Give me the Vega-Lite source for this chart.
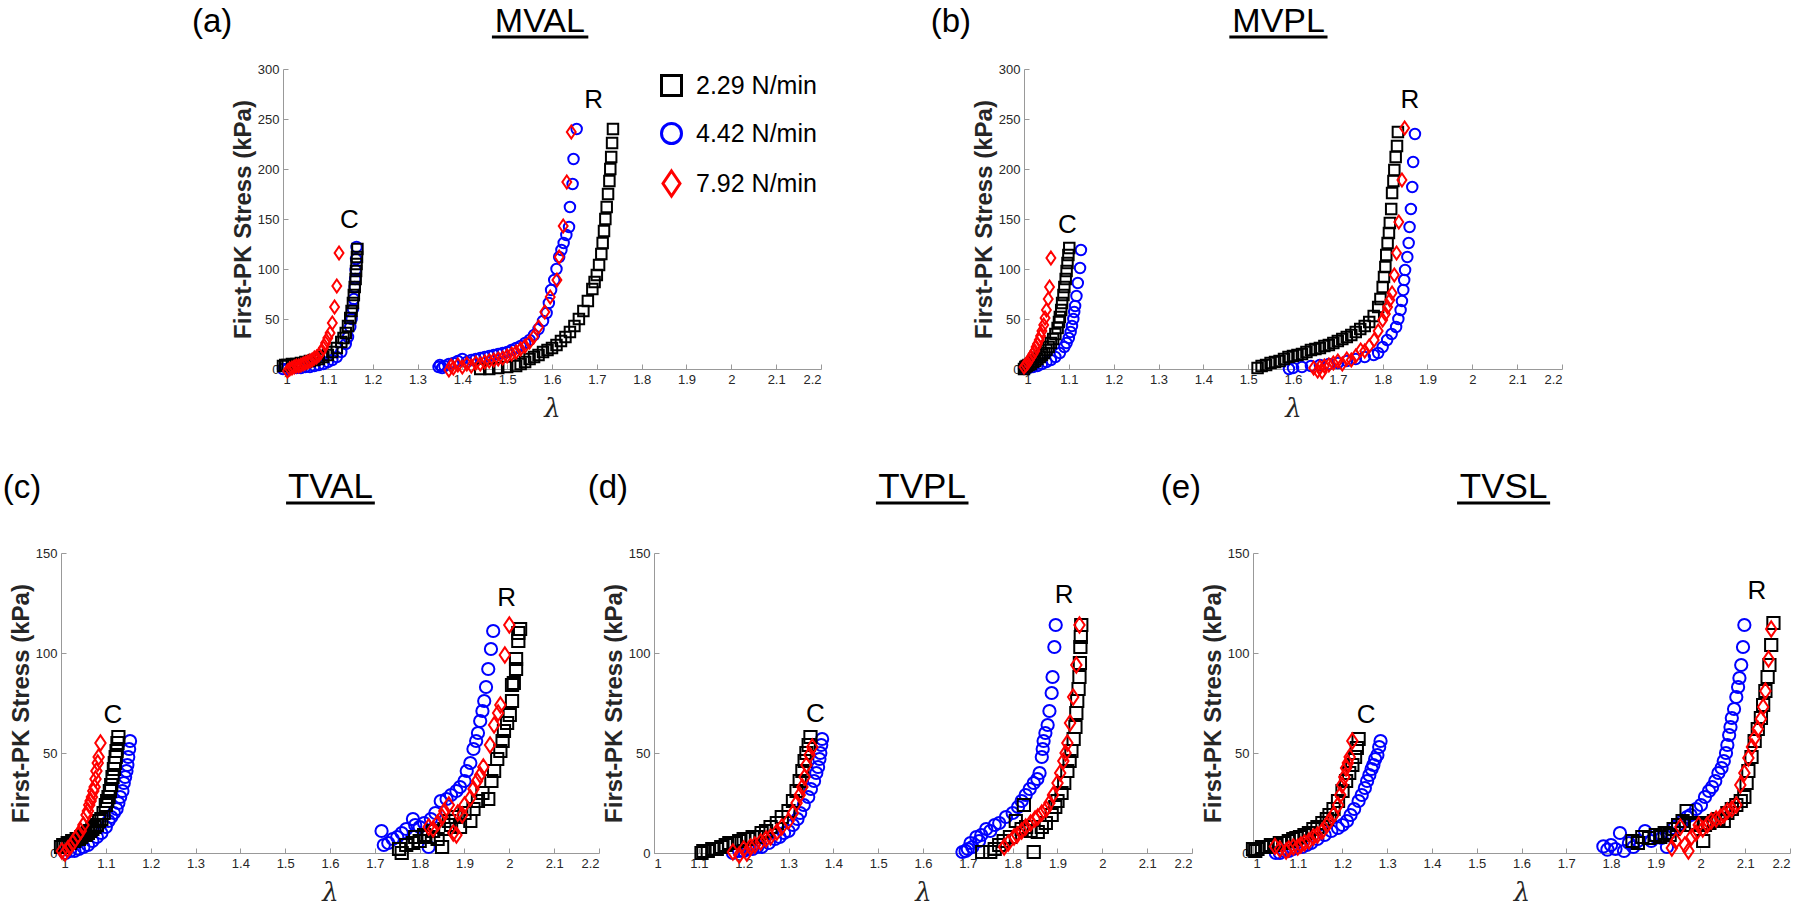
{
"$schema": "https://vega.github.io/schema/vega-lite/v6.json",
"background": "white",
"padding": 0,
"config": {
  "view": {"stroke": null},
  "font": "Liberation Sans",
  "axis": {"grid": false, "domainColor": "#999999", "domainWidth": 1, "tickColor": "#999999", "tickSize": -5, "labelPadding": 9, "labelFont": "Liberation Sans", "labelFontSize": 13, "labelColor": "#262626", "titleColor": "#262626"},
  "axisX": {"titleFont": "DejaVu Serif", "titleFontStyle": "italic", "titleFontWeight": "normal", "titleFontSize": 26, "titlePadding": 9, "labelAngle": 0},
  "axisY": {"titleFont": "Liberation Sans", "titleFontWeight": "bold", "titleFontSize": 24, "titlePadding": 2}
},
"datasets": {"pts": [
{"p":"a","s":"4.42 N/min","x":1,"y":0},{"p":"a","s":"4.42 N/min","x":1.01,"y":0},{"p":"a","s":"4.42 N/min","x":1.02,"y":1},{"p":"a","s":"4.42 N/min","x":1.03,"y":1},{"p":"a","s":"4.42 N/min","x":1.04,"y":1},{"p":"a","s":"4.42 N/min","x":1.05,"y":2},{"p":"a","s":"4.42 N/min","x":1.06,"y":2},{"p":"a","s":"4.42 N/min","x":1.07,"y":3},{"p":"a","s":"4.42 N/min","x":1.08,"y":4},{"p":"a","s":"4.42 N/min","x":1.09,"y":5},{"p":"a","s":"4.42 N/min","x":1.1,"y":7},{"p":"a","s":"4.42 N/min","x":1.11,"y":9},{"p":"a","s":"4.42 N/min","x":1.12,"y":12},{"p":"a","s":"4.42 N/min","x":1.13,"y":17},{"p":"a","s":"4.42 N/min","x":1.14,"y":25},{"p":"a","s":"4.42 N/min","x":1.145,"y":32},{"p":"a","s":"4.42 N/min","x":1.15,"y":42},{"p":"a","s":"4.42 N/min","x":1.153,"y":50},{"p":"a","s":"4.42 N/min","x":1.156,"y":60},{"p":"a","s":"4.42 N/min","x":1.158,"y":70},{"p":"a","s":"4.42 N/min","x":1.16,"y":82},{"p":"a","s":"4.42 N/min","x":1.161,"y":90},{"p":"a","s":"4.42 N/min","x":1.162,"y":99},{"p":"a","s":"4.42 N/min","x":1.163,"y":110},{"p":"a","s":"4.42 N/min","x":1.164,"y":122},
{"p":"a","s":"4.42 N/min","x":1.347,"y":2},{"p":"a","s":"4.42 N/min","x":1.35,"y":4},{"p":"a","s":"4.42 N/min","x":1.355,"y":1},{"p":"a","s":"4.42 N/min","x":1.36,"y":3},{"p":"a","s":"4.42 N/min","x":1.37,"y":5},{"p":"a","s":"4.42 N/min","x":1.38,"y":6},{"p":"a","s":"4.42 N/min","x":1.39,"y":8},{"p":"a","s":"4.42 N/min","x":1.4,"y":10},{"p":"a","s":"4.42 N/min","x":1.41,"y":7},{"p":"a","s":"4.42 N/min","x":1.42,"y":9},{"p":"a","s":"4.42 N/min","x":1.43,"y":10},{"p":"a","s":"4.42 N/min","x":1.44,"y":11},{"p":"a","s":"4.42 N/min","x":1.45,"y":12},{"p":"a","s":"4.42 N/min","x":1.46,"y":13},{"p":"a","s":"4.42 N/min","x":1.47,"y":14},{"p":"a","s":"4.42 N/min","x":1.48,"y":15},{"p":"a","s":"4.42 N/min","x":1.49,"y":16},{"p":"a","s":"4.42 N/min","x":1.5,"y":17},{"p":"a","s":"4.42 N/min","x":1.51,"y":19},{"p":"a","s":"4.42 N/min","x":1.52,"y":21},{"p":"a","s":"4.42 N/min","x":1.53,"y":23},{"p":"a","s":"4.42 N/min","x":1.54,"y":26},{"p":"a","s":"4.42 N/min","x":1.55,"y":29},{"p":"a","s":"4.42 N/min","x":1.56,"y":34},{"p":"a","s":"4.42 N/min","x":1.57,"y":40},{"p":"a","s":"4.42 N/min","x":1.58,"y":48},{"p":"a","s":"4.42 N/min","x":1.588,"y":56},{"p":"a","s":"4.42 N/min","x":1.593,"y":66},{"p":"a","s":"4.42 N/min","x":1.598,"y":79},{"p":"a","s":"4.42 N/min","x":1.605,"y":89},{"p":"a","s":"4.42 N/min","x":1.61,"y":100},{"p":"a","s":"4.42 N/min","x":1.616,"y":112},{"p":"a","s":"4.42 N/min","x":1.621,"y":119},{"p":"a","s":"4.42 N/min","x":1.626,"y":126},{"p":"a","s":"4.42 N/min","x":1.632,"y":134},{"p":"a","s":"4.42 N/min","x":1.638,"y":142},{"p":"a","s":"4.42 N/min","x":1.64,"y":162},{"p":"a","s":"4.42 N/min","x":1.646,"y":185},{"p":"a","s":"4.42 N/min","x":1.648,"y":210},{"p":"a","s":"4.42 N/min","x":1.655,"y":240},
{"p":"a","s":"2.29 N/min","x":1,"y":3},{"p":"a","s":"2.29 N/min","x":1.005,"y":4},{"p":"a","s":"2.29 N/min","x":1.01,"y":4},{"p":"a","s":"2.29 N/min","x":1.02,"y":5},{"p":"a","s":"2.29 N/min","x":1.03,"y":5},{"p":"a","s":"2.29 N/min","x":1.04,"y":6},{"p":"a","s":"2.29 N/min","x":1.05,"y":7},{"p":"a","s":"2.29 N/min","x":1.06,"y":8},{"p":"a","s":"2.29 N/min","x":1.07,"y":9},{"p":"a","s":"2.29 N/min","x":1.08,"y":10},{"p":"a","s":"2.29 N/min","x":1.09,"y":12},{"p":"a","s":"2.29 N/min","x":1.1,"y":14},{"p":"a","s":"2.29 N/min","x":1.11,"y":17},{"p":"a","s":"2.29 N/min","x":1.12,"y":21},{"p":"a","s":"2.29 N/min","x":1.13,"y":27},{"p":"a","s":"2.29 N/min","x":1.135,"y":31},{"p":"a","s":"2.29 N/min","x":1.14,"y":36},{"p":"a","s":"2.29 N/min","x":1.145,"y":43},{"p":"a","s":"2.29 N/min","x":1.15,"y":51},{"p":"a","s":"2.29 N/min","x":1.153,"y":58},{"p":"a","s":"2.29 N/min","x":1.156,"y":66},{"p":"a","s":"2.29 N/min","x":1.158,"y":74},{"p":"a","s":"2.29 N/min","x":1.16,"y":82},{"p":"a","s":"2.29 N/min","x":1.162,"y":90},{"p":"a","s":"2.29 N/min","x":1.163,"y":98},{"p":"a","s":"2.29 N/min","x":1.164,"y":105},{"p":"a","s":"2.29 N/min","x":1.165,"y":112},{"p":"a","s":"2.29 N/min","x":1.166,"y":120},
{"p":"a","s":"2.29 N/min","x":1.44,"y":0},{"p":"a","s":"2.29 N/min","x":1.46,"y":0},{"p":"a","s":"2.29 N/min","x":1.48,"y":1},{"p":"a","s":"2.29 N/min","x":1.5,"y":2},{"p":"a","s":"2.29 N/min","x":1.52,"y":3},{"p":"a","s":"2.29 N/min","x":1.53,"y":5},{"p":"a","s":"2.29 N/min","x":1.54,"y":7},{"p":"a","s":"2.29 N/min","x":1.55,"y":10},{"p":"a","s":"2.29 N/min","x":1.56,"y":12},{"p":"a","s":"2.29 N/min","x":1.57,"y":14},{"p":"a","s":"2.29 N/min","x":1.58,"y":17},{"p":"a","s":"2.29 N/min","x":1.59,"y":19},{"p":"a","s":"2.29 N/min","x":1.6,"y":21},{"p":"a","s":"2.29 N/min","x":1.61,"y":24},{"p":"a","s":"2.29 N/min","x":1.62,"y":28},{"p":"a","s":"2.29 N/min","x":1.63,"y":32},{"p":"a","s":"2.29 N/min","x":1.64,"y":37},{"p":"a","s":"2.29 N/min","x":1.65,"y":43},{"p":"a","s":"2.29 N/min","x":1.66,"y":50},{"p":"a","s":"2.29 N/min","x":1.67,"y":58},{"p":"a","s":"2.29 N/min","x":1.68,"y":68},{"p":"a","s":"2.29 N/min","x":1.69,"y":80},{"p":"a","s":"2.29 N/min","x":1.695,"y":87},{"p":"a","s":"2.29 N/min","x":1.7,"y":94},{"p":"a","s":"2.29 N/min","x":1.705,"y":104},{"p":"a","s":"2.29 N/min","x":1.71,"y":115},{"p":"a","s":"2.29 N/min","x":1.713,"y":126},{"p":"a","s":"2.29 N/min","x":1.716,"y":138},{"p":"a","s":"2.29 N/min","x":1.719,"y":150},{"p":"a","s":"2.29 N/min","x":1.722,"y":162},{"p":"a","s":"2.29 N/min","x":1.725,"y":175},{"p":"a","s":"2.29 N/min","x":1.728,"y":188},{"p":"a","s":"2.29 N/min","x":1.73,"y":200},{"p":"a","s":"2.29 N/min","x":1.732,"y":212},{"p":"a","s":"2.29 N/min","x":1.734,"y":226},{"p":"a","s":"2.29 N/min","x":1.736,"y":240},
{"p":"a","s":"7.92 N/min","x":1.01,"y":-2},{"p":"a","s":"7.92 N/min","x":1.015,"y":0},{"p":"a","s":"7.92 N/min","x":1.02,"y":1},{"p":"a","s":"7.92 N/min","x":1.025,"y":2},{"p":"a","s":"7.92 N/min","x":1.03,"y":3},{"p":"a","s":"7.92 N/min","x":1.035,"y":3},{"p":"a","s":"7.92 N/min","x":1.04,"y":4},{"p":"a","s":"7.92 N/min","x":1.045,"y":5},{"p":"a","s":"7.92 N/min","x":1.05,"y":6},{"p":"a","s":"7.92 N/min","x":1.055,"y":7},{"p":"a","s":"7.92 N/min","x":1.06,"y":8},{"p":"a","s":"7.92 N/min","x":1.065,"y":9},{"p":"a","s":"7.92 N/min","x":1.07,"y":11},{"p":"a","s":"7.92 N/min","x":1.075,"y":12},{"p":"a","s":"7.92 N/min","x":1.08,"y":14},{"p":"a","s":"7.92 N/min","x":1.085,"y":17},{"p":"a","s":"7.92 N/min","x":1.09,"y":21},{"p":"a","s":"7.92 N/min","x":1.095,"y":26},{"p":"a","s":"7.92 N/min","x":1.1,"y":31},{"p":"a","s":"7.92 N/min","x":1.105,"y":36},{"p":"a","s":"7.92 N/min","x":1.11,"y":46},{"p":"a","s":"7.92 N/min","x":1.115,"y":62},{"p":"a","s":"7.92 N/min","x":1.12,"y":83},{"p":"a","s":"7.92 N/min","x":1.125,"y":116},
{"p":"a","s":"7.92 N/min","x":1.37,"y":-1},{"p":"a","s":"7.92 N/min","x":1.375,"y":3},{"p":"a","s":"7.92 N/min","x":1.38,"y":1},{"p":"a","s":"7.92 N/min","x":1.39,"y":4},{"p":"a","s":"7.92 N/min","x":1.4,"y":2},{"p":"a","s":"7.92 N/min","x":1.41,"y":5},{"p":"a","s":"7.92 N/min","x":1.42,"y":3},{"p":"a","s":"7.92 N/min","x":1.43,"y":6},{"p":"a","s":"7.92 N/min","x":1.44,"y":5},{"p":"a","s":"7.92 N/min","x":1.45,"y":7},{"p":"a","s":"7.92 N/min","x":1.46,"y":8},{"p":"a","s":"7.92 N/min","x":1.47,"y":9},{"p":"a","s":"7.92 N/min","x":1.48,"y":10},{"p":"a","s":"7.92 N/min","x":1.49,"y":11},{"p":"a","s":"7.92 N/min","x":1.5,"y":13},{"p":"a","s":"7.92 N/min","x":1.51,"y":15},{"p":"a","s":"7.92 N/min","x":1.52,"y":17},{"p":"a","s":"7.92 N/min","x":1.53,"y":20},{"p":"a","s":"7.92 N/min","x":1.54,"y":23},{"p":"a","s":"7.92 N/min","x":1.55,"y":27},{"p":"a","s":"7.92 N/min","x":1.559,"y":32},{"p":"a","s":"7.92 N/min","x":1.57,"y":42},{"p":"a","s":"7.92 N/min","x":1.584,"y":57},{"p":"a","s":"7.92 N/min","x":1.596,"y":72},{"p":"a","s":"7.92 N/min","x":1.611,"y":89},{"p":"a","s":"7.92 N/min","x":1.616,"y":112},{"p":"a","s":"7.92 N/min","x":1.625,"y":143},{"p":"a","s":"7.92 N/min","x":1.633,"y":187},{"p":"a","s":"7.92 N/min","x":1.643,"y":237},

{"p":"b","s":"4.42 N/min","x":1,"y":0},{"p":"b","s":"4.42 N/min","x":1.01,"y":1},{"p":"b","s":"4.42 N/min","x":1.02,"y":2},{"p":"b","s":"4.42 N/min","x":1.03,"y":3},{"p":"b","s":"4.42 N/min","x":1.04,"y":5},{"p":"b","s":"4.42 N/min","x":1.05,"y":7},{"p":"b","s":"4.42 N/min","x":1.06,"y":9},{"p":"b","s":"4.42 N/min","x":1.07,"y":12},{"p":"b","s":"4.42 N/min","x":1.08,"y":16},{"p":"b","s":"4.42 N/min","x":1.09,"y":22},{"p":"b","s":"4.42 N/min","x":1.095,"y":26},{"p":"b","s":"4.42 N/min","x":1.1,"y":31},{"p":"b","s":"4.42 N/min","x":1.104,"y":37},{"p":"b","s":"4.42 N/min","x":1.107,"y":43},{"p":"b","s":"4.42 N/min","x":1.11,"y":50},{"p":"b","s":"4.42 N/min","x":1.112,"y":57},{"p":"b","s":"4.42 N/min","x":1.114,"y":63},{"p":"b","s":"4.42 N/min","x":1.117,"y":73},{"p":"b","s":"4.42 N/min","x":1.12,"y":86},{"p":"b","s":"4.42 N/min","x":1.125,"y":101},{"p":"b","s":"4.42 N/min","x":1.127,"y":119},
{"p":"b","s":"4.42 N/min","x":1.591,"y":0},{"p":"b","s":"4.42 N/min","x":1.6,"y":1},{"p":"b","s":"4.42 N/min","x":1.62,"y":2},{"p":"b","s":"4.42 N/min","x":1.64,"y":3},{"p":"b","s":"4.42 N/min","x":1.66,"y":4},{"p":"b","s":"4.42 N/min","x":1.68,"y":5},{"p":"b","s":"4.42 N/min","x":1.7,"y":6},{"p":"b","s":"4.42 N/min","x":1.72,"y":8},{"p":"b","s":"4.42 N/min","x":1.74,"y":10},{"p":"b","s":"4.42 N/min","x":1.76,"y":12},{"p":"b","s":"4.42 N/min","x":1.78,"y":14},{"p":"b","s":"4.42 N/min","x":1.79,"y":16},{"p":"b","s":"4.42 N/min","x":1.8,"y":22},{"p":"b","s":"4.42 N/min","x":1.81,"y":29},{"p":"b","s":"4.42 N/min","x":1.82,"y":35},{"p":"b","s":"4.42 N/min","x":1.83,"y":42},{"p":"b","s":"4.42 N/min","x":1.835,"y":50},{"p":"b","s":"4.42 N/min","x":1.84,"y":59},{"p":"b","s":"4.42 N/min","x":1.843,"y":68},{"p":"b","s":"4.42 N/min","x":1.846,"y":79},{"p":"b","s":"4.42 N/min","x":1.848,"y":89},{"p":"b","s":"4.42 N/min","x":1.85,"y":99},{"p":"b","s":"4.42 N/min","x":1.855,"y":112},{"p":"b","s":"4.42 N/min","x":1.858,"y":126},{"p":"b","s":"4.42 N/min","x":1.86,"y":142},{"p":"b","s":"4.42 N/min","x":1.863,"y":160},{"p":"b","s":"4.42 N/min","x":1.866,"y":182},{"p":"b","s":"4.42 N/min","x":1.868,"y":207},{"p":"b","s":"4.42 N/min","x":1.872,"y":235},
{"p":"b","s":"2.29 N/min","x":1,"y":0},{"p":"b","s":"2.29 N/min","x":1.003,"y":2},{"p":"b","s":"2.29 N/min","x":1.006,"y":3},{"p":"b","s":"2.29 N/min","x":1.01,"y":4},{"p":"b","s":"2.29 N/min","x":1.015,"y":5},{"p":"b","s":"2.29 N/min","x":1.02,"y":7},{"p":"b","s":"2.29 N/min","x":1.025,"y":8},{"p":"b","s":"2.29 N/min","x":1.03,"y":10},{"p":"b","s":"2.29 N/min","x":1.035,"y":12},{"p":"b","s":"2.29 N/min","x":1.04,"y":14},{"p":"b","s":"2.29 N/min","x":1.045,"y":16},{"p":"b","s":"2.29 N/min","x":1.05,"y":19},{"p":"b","s":"2.29 N/min","x":1.055,"y":22},{"p":"b","s":"2.29 N/min","x":1.06,"y":26},{"p":"b","s":"2.29 N/min","x":1.065,"y":30},{"p":"b","s":"2.29 N/min","x":1.07,"y":35},{"p":"b","s":"2.29 N/min","x":1.075,"y":41},{"p":"b","s":"2.29 N/min","x":1.078,"y":47},{"p":"b","s":"2.29 N/min","x":1.08,"y":52},{"p":"b","s":"2.29 N/min","x":1.083,"y":59},{"p":"b","s":"2.29 N/min","x":1.085,"y":66},{"p":"b","s":"2.29 N/min","x":1.088,"y":74},{"p":"b","s":"2.29 N/min","x":1.09,"y":82},{"p":"b","s":"2.29 N/min","x":1.093,"y":90},{"p":"b","s":"2.29 N/min","x":1.095,"y":98},{"p":"b","s":"2.29 N/min","x":1.097,"y":106},{"p":"b","s":"2.29 N/min","x":1.099,"y":114},{"p":"b","s":"2.29 N/min","x":1.101,"y":121},
{"p":"b","s":"2.29 N/min","x":1.521,"y":1},{"p":"b","s":"2.29 N/min","x":1.53,"y":3},{"p":"b","s":"2.29 N/min","x":1.54,"y":4},{"p":"b","s":"2.29 N/min","x":1.55,"y":6},{"p":"b","s":"2.29 N/min","x":1.56,"y":7},{"p":"b","s":"2.29 N/min","x":1.57,"y":8},{"p":"b","s":"2.29 N/min","x":1.58,"y":10},{"p":"b","s":"2.29 N/min","x":1.59,"y":12},{"p":"b","s":"2.29 N/min","x":1.6,"y":13},{"p":"b","s":"2.29 N/min","x":1.61,"y":14},{"p":"b","s":"2.29 N/min","x":1.62,"y":15},{"p":"b","s":"2.29 N/min","x":1.63,"y":17},{"p":"b","s":"2.29 N/min","x":1.64,"y":19},{"p":"b","s":"2.29 N/min","x":1.65,"y":20},{"p":"b","s":"2.29 N/min","x":1.66,"y":21},{"p":"b","s":"2.29 N/min","x":1.67,"y":23},{"p":"b","s":"2.29 N/min","x":1.68,"y":24},{"p":"b","s":"2.29 N/min","x":1.69,"y":26},{"p":"b","s":"2.29 N/min","x":1.7,"y":28},{"p":"b","s":"2.29 N/min","x":1.71,"y":30},{"p":"b","s":"2.29 N/min","x":1.72,"y":32},{"p":"b","s":"2.29 N/min","x":1.73,"y":34},{"p":"b","s":"2.29 N/min","x":1.74,"y":37},{"p":"b","s":"2.29 N/min","x":1.75,"y":40},{"p":"b","s":"2.29 N/min","x":1.76,"y":43},{"p":"b","s":"2.29 N/min","x":1.77,"y":47},{"p":"b","s":"2.29 N/min","x":1.78,"y":53},{"p":"b","s":"2.29 N/min","x":1.79,"y":62},{"p":"b","s":"2.29 N/min","x":1.795,"y":70},{"p":"b","s":"2.29 N/min","x":1.8,"y":82},{"p":"b","s":"2.29 N/min","x":1.803,"y":92},{"p":"b","s":"2.29 N/min","x":1.806,"y":102},{"p":"b","s":"2.29 N/min","x":1.808,"y":114},{"p":"b","s":"2.29 N/min","x":1.811,"y":126},{"p":"b","s":"2.29 N/min","x":1.814,"y":136},{"p":"b","s":"2.29 N/min","x":1.816,"y":146},{"p":"b","s":"2.29 N/min","x":1.819,"y":160},{"p":"b","s":"2.29 N/min","x":1.821,"y":176},{"p":"b","s":"2.29 N/min","x":1.824,"y":188},{"p":"b","s":"2.29 N/min","x":1.826,"y":199},{"p":"b","s":"2.29 N/min","x":1.829,"y":212},{"p":"b","s":"2.29 N/min","x":1.832,"y":223},{"p":"b","s":"2.29 N/min","x":1.834,"y":237},
{"p":"b","s":"7.92 N/min","x":1,"y":2},{"p":"b","s":"7.92 N/min","x":1.004,"y":4},{"p":"b","s":"7.92 N/min","x":1.008,"y":6},{"p":"b","s":"7.92 N/min","x":1.012,"y":9},{"p":"b","s":"7.92 N/min","x":1.016,"y":12},{"p":"b","s":"7.92 N/min","x":1.02,"y":15},{"p":"b","s":"7.92 N/min","x":1.024,"y":18},{"p":"b","s":"7.92 N/min","x":1.027,"y":22},{"p":"b","s":"7.92 N/min","x":1.03,"y":25},{"p":"b","s":"7.92 N/min","x":1.034,"y":29},{"p":"b","s":"7.92 N/min","x":1.037,"y":33},{"p":"b","s":"7.92 N/min","x":1.04,"y":38},{"p":"b","s":"7.92 N/min","x":1.044,"y":44},{"p":"b","s":"7.92 N/min","x":1.047,"y":51},{"p":"b","s":"7.92 N/min","x":1.05,"y":59},{"p":"b","s":"7.92 N/min","x":1.054,"y":70},{"p":"b","s":"7.92 N/min","x":1.057,"y":82},{"p":"b","s":"7.92 N/min","x":1.06,"y":111},
{"p":"b","s":"7.92 N/min","x":1.646,"y":1},{"p":"b","s":"7.92 N/min","x":1.655,"y":-2},{"p":"b","s":"7.92 N/min","x":1.66,"y":2},{"p":"b","s":"7.92 N/min","x":1.665,"y":-3},{"p":"b","s":"7.92 N/min","x":1.67,"y":3},{"p":"b","s":"7.92 N/min","x":1.68,"y":4},{"p":"b","s":"7.92 N/min","x":1.69,"y":6},{"p":"b","s":"7.92 N/min","x":1.7,"y":8},{"p":"b","s":"7.92 N/min","x":1.71,"y":5},{"p":"b","s":"7.92 N/min","x":1.72,"y":10},{"p":"b","s":"7.92 N/min","x":1.73,"y":9},{"p":"b","s":"7.92 N/min","x":1.74,"y":13},{"p":"b","s":"7.92 N/min","x":1.751,"y":19},{"p":"b","s":"7.92 N/min","x":1.76,"y":18},{"p":"b","s":"7.92 N/min","x":1.77,"y":23},{"p":"b","s":"7.92 N/min","x":1.781,"y":29},{"p":"b","s":"7.92 N/min","x":1.79,"y":38},{"p":"b","s":"7.92 N/min","x":1.8,"y":49},{"p":"b","s":"7.92 N/min","x":1.806,"y":55},{"p":"b","s":"7.92 N/min","x":1.811,"y":62},{"p":"b","s":"7.92 N/min","x":1.816,"y":69},{"p":"b","s":"7.92 N/min","x":1.821,"y":76},{"p":"b","s":"7.92 N/min","x":1.826,"y":94},{"p":"b","s":"7.92 N/min","x":1.831,"y":116},{"p":"b","s":"7.92 N/min","x":1.836,"y":147},{"p":"b","s":"7.92 N/min","x":1.843,"y":189},{"p":"b","s":"7.92 N/min","x":1.849,"y":241},

{"p":"c","s":"4.42 N/min","x":1.01,"y":0},{"p":"c","s":"4.42 N/min","x":1.02,"y":1},{"p":"c","s":"4.42 N/min","x":1.03,"y":1},{"p":"c","s":"4.42 N/min","x":1.04,"y":2},{"p":"c","s":"4.42 N/min","x":1.05,"y":3},{"p":"c","s":"4.42 N/min","x":1.06,"y":4},{"p":"c","s":"4.42 N/min","x":1.07,"y":6},{"p":"c","s":"4.42 N/min","x":1.08,"y":8},{"p":"c","s":"4.42 N/min","x":1.09,"y":10},{"p":"c","s":"4.42 N/min","x":1.1,"y":13},{"p":"c","s":"4.42 N/min","x":1.106,"y":16},{"p":"c","s":"4.42 N/min","x":1.112,"y":18},{"p":"c","s":"4.42 N/min","x":1.118,"y":20},{"p":"c","s":"4.42 N/min","x":1.124,"y":22},{"p":"c","s":"4.42 N/min","x":1.128,"y":25},{"p":"c","s":"4.42 N/min","x":1.132,"y":28},{"p":"c","s":"4.42 N/min","x":1.137,"y":31},{"p":"c","s":"4.42 N/min","x":1.14,"y":35},{"p":"c","s":"4.42 N/min","x":1.143,"y":38},{"p":"c","s":"4.42 N/min","x":1.146,"y":41},{"p":"c","s":"4.42 N/min","x":1.148,"y":44},{"p":"c","s":"4.42 N/min","x":1.15,"y":48},{"p":"c","s":"4.42 N/min","x":1.152,"y":52},{"p":"c","s":"4.42 N/min","x":1.154,"y":56},
{"p":"c","s":"4.42 N/min","x":1.715,"y":11},{"p":"c","s":"4.42 N/min","x":1.72,"y":4},{"p":"c","s":"4.42 N/min","x":1.73,"y":5},{"p":"c","s":"4.42 N/min","x":1.74,"y":7},{"p":"c","s":"4.42 N/min","x":1.75,"y":8},{"p":"c","s":"4.42 N/min","x":1.76,"y":10},{"p":"c","s":"4.42 N/min","x":1.77,"y":12},{"p":"c","s":"4.42 N/min","x":1.785,"y":17},{"p":"c","s":"4.42 N/min","x":1.79,"y":14},{"p":"c","s":"4.42 N/min","x":1.8,"y":13},{"p":"c","s":"4.42 N/min","x":1.81,"y":15},{"p":"c","s":"4.42 N/min","x":1.82,"y":3},{"p":"c","s":"4.42 N/min","x":1.825,"y":17},{"p":"c","s":"4.42 N/min","x":1.835,"y":20},{"p":"c","s":"4.42 N/min","x":1.847,"y":26},{"p":"c","s":"4.42 N/min","x":1.86,"y":27},{"p":"c","s":"4.42 N/min","x":1.87,"y":29},{"p":"c","s":"4.42 N/min","x":1.882,"y":31},{"p":"c","s":"4.42 N/min","x":1.89,"y":33},{"p":"c","s":"4.42 N/min","x":1.9,"y":36},{"p":"c","s":"4.42 N/min","x":1.905,"y":41},{"p":"c","s":"4.42 N/min","x":1.913,"y":45},{"p":"c","s":"4.42 N/min","x":1.92,"y":52},{"p":"c","s":"4.42 N/min","x":1.926,"y":56},{"p":"c","s":"4.42 N/min","x":1.93,"y":60},{"p":"c","s":"4.42 N/min","x":1.935,"y":66},{"p":"c","s":"4.42 N/min","x":1.94,"y":71},{"p":"c","s":"4.42 N/min","x":1.944,"y":76},{"p":"c","s":"4.42 N/min","x":1.948,"y":83},{"p":"c","s":"4.42 N/min","x":1.953,"y":92},{"p":"c","s":"4.42 N/min","x":1.959,"y":102},{"p":"c","s":"4.42 N/min","x":1.964,"y":111},
{"p":"c","s":"2.29 N/min","x":1,"y":3},{"p":"c","s":"2.29 N/min","x":1.005,"y":4},{"p":"c","s":"2.29 N/min","x":1.01,"y":4},{"p":"c","s":"2.29 N/min","x":1.015,"y":5},{"p":"c","s":"2.29 N/min","x":1.02,"y":5},{"p":"c","s":"2.29 N/min","x":1.025,"y":6},{"p":"c","s":"2.29 N/min","x":1.03,"y":6},{"p":"c","s":"2.29 N/min","x":1.035,"y":7},{"p":"c","s":"2.29 N/min","x":1.04,"y":7},{"p":"c","s":"2.29 N/min","x":1.045,"y":8},{"p":"c","s":"2.29 N/min","x":1.05,"y":9},{"p":"c","s":"2.29 N/min","x":1.055,"y":9},{"p":"c","s":"2.29 N/min","x":1.06,"y":10},{"p":"c","s":"2.29 N/min","x":1.065,"y":11},{"p":"c","s":"2.29 N/min","x":1.07,"y":12},{"p":"c","s":"2.29 N/min","x":1.075,"y":13},{"p":"c","s":"2.29 N/min","x":1.08,"y":14},{"p":"c","s":"2.29 N/min","x":1.085,"y":16},{"p":"c","s":"2.29 N/min","x":1.09,"y":17},{"p":"c","s":"2.29 N/min","x":1.095,"y":20},{"p":"c","s":"2.29 N/min","x":1.1,"y":24},{"p":"c","s":"2.29 N/min","x":1.103,"y":26},{"p":"c","s":"2.29 N/min","x":1.106,"y":28},{"p":"c","s":"2.29 N/min","x":1.109,"y":31},{"p":"c","s":"2.29 N/min","x":1.112,"y":34},{"p":"c","s":"2.29 N/min","x":1.115,"y":38},{"p":"c","s":"2.29 N/min","x":1.118,"y":42},{"p":"c","s":"2.29 N/min","x":1.12,"y":45},{"p":"c","s":"2.29 N/min","x":1.122,"y":48},{"p":"c","s":"2.29 N/min","x":1.124,"y":51},{"p":"c","s":"2.29 N/min","x":1.126,"y":55},{"p":"c","s":"2.29 N/min","x":1.128,"y":58},
{"p":"c","s":"2.29 N/min","x":1.754,"y":2},{"p":"c","s":"2.29 N/min","x":1.76,"y":0},{"p":"c","s":"2.29 N/min","x":1.77,"y":4},{"p":"c","s":"2.29 N/min","x":1.785,"y":5},{"p":"c","s":"2.29 N/min","x":1.79,"y":8},{"p":"c","s":"2.29 N/min","x":1.8,"y":6},{"p":"c","s":"2.29 N/min","x":1.81,"y":9},{"p":"c","s":"2.29 N/min","x":1.82,"y":8},{"p":"c","s":"2.29 N/min","x":1.83,"y":11},{"p":"c","s":"2.29 N/min","x":1.84,"y":7},{"p":"c","s":"2.29 N/min","x":1.85,"y":3},{"p":"c","s":"2.29 N/min","x":1.855,"y":12},{"p":"c","s":"2.29 N/min","x":1.865,"y":16},{"p":"c","s":"2.29 N/min","x":1.87,"y":14},{"p":"c","s":"2.29 N/min","x":1.88,"y":18},{"p":"c","s":"2.29 N/min","x":1.89,"y":13},{"p":"c","s":"2.29 N/min","x":1.9,"y":20},{"p":"c","s":"2.29 N/min","x":1.913,"y":16},{"p":"c","s":"2.29 N/min","x":1.92,"y":22},{"p":"c","s":"2.29 N/min","x":1.93,"y":26},{"p":"c","s":"2.29 N/min","x":1.94,"y":30},{"p":"c","s":"2.29 N/min","x":1.953,"y":27},{"p":"c","s":"2.29 N/min","x":1.96,"y":36},{"p":"c","s":"2.29 N/min","x":1.966,"y":41},{"p":"c","s":"2.29 N/min","x":1.973,"y":47},{"p":"c","s":"2.29 N/min","x":1.98,"y":51},{"p":"c","s":"2.29 N/min","x":1.985,"y":56},{"p":"c","s":"2.29 N/min","x":1.988,"y":61},{"p":"c","s":"2.29 N/min","x":1.995,"y":65},{"p":"c","s":"2.29 N/min","x":2.001,"y":69},{"p":"c","s":"2.29 N/min","x":2.006,"y":76},{"p":"c","s":"2.29 N/min","x":2.006,"y":84},{"p":"c","s":"2.29 N/min","x":2.01,"y":85},{"p":"c","s":"2.29 N/min","x":2.015,"y":92},{"p":"c","s":"2.29 N/min","x":2.015,"y":97},{"p":"c","s":"2.29 N/min","x":2.02,"y":106},{"p":"c","s":"2.29 N/min","x":2.02,"y":110},{"p":"c","s":"2.29 N/min","x":2.024,"y":112},
{"p":"c","s":"7.92 N/min","x":1.002,"y":1},{"p":"c","s":"7.92 N/min","x":1.009,"y":0},{"p":"c","s":"7.92 N/min","x":1.015,"y":2},{"p":"c","s":"7.92 N/min","x":1.02,"y":3},{"p":"c","s":"7.92 N/min","x":1.026,"y":5},{"p":"c","s":"7.92 N/min","x":1.032,"y":7},{"p":"c","s":"7.92 N/min","x":1.038,"y":9},{"p":"c","s":"7.92 N/min","x":1.044,"y":11},{"p":"c","s":"7.92 N/min","x":1.05,"y":14},{"p":"c","s":"7.92 N/min","x":1.057,"y":19},{"p":"c","s":"7.92 N/min","x":1.06,"y":21},{"p":"c","s":"7.92 N/min","x":1.063,"y":24},{"p":"c","s":"7.92 N/min","x":1.066,"y":26},{"p":"c","s":"7.92 N/min","x":1.069,"y":28},{"p":"c","s":"7.92 N/min","x":1.072,"y":31},{"p":"c","s":"7.92 N/min","x":1.075,"y":33},{"p":"c","s":"7.92 N/min","x":1.077,"y":37},{"p":"c","s":"7.92 N/min","x":1.079,"y":41},{"p":"c","s":"7.92 N/min","x":1.082,"y":45},{"p":"c","s":"7.92 N/min","x":1.084,"y":48},{"p":"c","s":"7.92 N/min","x":1.088,"y":55},
{"p":"c","s":"7.92 N/min","x":1.82,"y":13},{"p":"c","s":"7.92 N/min","x":1.83,"y":12},{"p":"c","s":"7.92 N/min","x":1.84,"y":15},{"p":"c","s":"7.92 N/min","x":1.85,"y":18},{"p":"c","s":"7.92 N/min","x":1.855,"y":21},{"p":"c","s":"7.92 N/min","x":1.865,"y":24},{"p":"c","s":"7.92 N/min","x":1.875,"y":10},{"p":"c","s":"7.92 N/min","x":1.882,"y":9},{"p":"c","s":"7.92 N/min","x":1.885,"y":20},{"p":"c","s":"7.92 N/min","x":1.895,"y":19},{"p":"c","s":"7.92 N/min","x":1.9,"y":24},{"p":"c","s":"7.92 N/min","x":1.913,"y":27.5},{"p":"c","s":"7.92 N/min","x":1.92,"y":32},{"p":"c","s":"7.92 N/min","x":1.928,"y":36},{"p":"c","s":"7.92 N/min","x":1.935,"y":39},{"p":"c","s":"7.92 N/min","x":1.942,"y":43},{"p":"c","s":"7.92 N/min","x":1.957,"y":54},{"p":"c","s":"7.92 N/min","x":1.966,"y":64},{"p":"c","s":"7.92 N/min","x":1.975,"y":70},{"p":"c","s":"7.92 N/min","x":1.98,"y":74},{"p":"c","s":"7.92 N/min","x":1.99,"y":99},{"p":"c","s":"7.92 N/min","x":2,"y":114},

{"p":"d","s":"4.42 N/min","x":1.176,"y":0},{"p":"d","s":"4.42 N/min","x":1.19,"y":1},{"p":"d","s":"4.42 N/min","x":1.2,"y":1},{"p":"d","s":"4.42 N/min","x":1.21,"y":2},{"p":"d","s":"4.42 N/min","x":1.22,"y":2},{"p":"d","s":"4.42 N/min","x":1.23,"y":3},{"p":"d","s":"4.42 N/min","x":1.24,"y":3},{"p":"d","s":"4.42 N/min","x":1.256,"y":5},{"p":"d","s":"4.42 N/min","x":1.27,"y":7},{"p":"d","s":"4.42 N/min","x":1.28,"y":8},{"p":"d","s":"4.42 N/min","x":1.29,"y":10},{"p":"d","s":"4.42 N/min","x":1.3,"y":11},{"p":"d","s":"4.42 N/min","x":1.31,"y":14},{"p":"d","s":"4.42 N/min","x":1.32,"y":17},{"p":"d","s":"4.42 N/min","x":1.326,"y":20},{"p":"d","s":"4.42 N/min","x":1.334,"y":24},{"p":"d","s":"4.42 N/min","x":1.344,"y":28},{"p":"d","s":"4.42 N/min","x":1.35,"y":32},{"p":"d","s":"4.42 N/min","x":1.357,"y":36},{"p":"d","s":"4.42 N/min","x":1.362,"y":40},{"p":"d","s":"4.42 N/min","x":1.366,"y":43},{"p":"d","s":"4.42 N/min","x":1.369,"y":47},{"p":"d","s":"4.42 N/min","x":1.371,"y":50},{"p":"d","s":"4.42 N/min","x":1.373,"y":54},{"p":"d","s":"4.42 N/min","x":1.375,"y":57},
{"p":"d","s":"4.42 N/min","x":1.688,"y":0.5},{"p":"d","s":"4.42 N/min","x":1.695,"y":1},{"p":"d","s":"4.42 N/min","x":1.7,"y":2},{"p":"d","s":"4.42 N/min","x":1.706,"y":5},{"p":"d","s":"4.42 N/min","x":1.71,"y":3},{"p":"d","s":"4.42 N/min","x":1.719,"y":8},{"p":"d","s":"4.42 N/min","x":1.725,"y":6},{"p":"d","s":"4.42 N/min","x":1.73,"y":9},{"p":"d","s":"4.42 N/min","x":1.741,"y":12},{"p":"d","s":"4.42 N/min","x":1.75,"y":11},{"p":"d","s":"4.42 N/min","x":1.76,"y":14},{"p":"d","s":"4.42 N/min","x":1.77,"y":15},{"p":"d","s":"4.42 N/min","x":1.785,"y":18},{"p":"d","s":"4.42 N/min","x":1.8,"y":20},{"p":"d","s":"4.42 N/min","x":1.812,"y":23},{"p":"d","s":"4.42 N/min","x":1.82,"y":26},{"p":"d","s":"4.42 N/min","x":1.829,"y":29},{"p":"d","s":"4.42 N/min","x":1.838,"y":32},{"p":"d","s":"4.42 N/min","x":1.847,"y":35},{"p":"d","s":"4.42 N/min","x":1.855,"y":37},{"p":"d","s":"4.42 N/min","x":1.86,"y":40},{"p":"d","s":"4.42 N/min","x":1.865,"y":48},{"p":"d","s":"4.42 N/min","x":1.867,"y":52},{"p":"d","s":"4.42 N/min","x":1.869,"y":56},{"p":"d","s":"4.42 N/min","x":1.873,"y":60},{"p":"d","s":"4.42 N/min","x":1.878,"y":64},{"p":"d","s":"4.42 N/min","x":1.882,"y":71},{"p":"d","s":"4.42 N/min","x":1.887,"y":80},{"p":"d","s":"4.42 N/min","x":1.889,"y":88},{"p":"d","s":"4.42 N/min","x":1.893,"y":103},{"p":"d","s":"4.42 N/min","x":1.896,"y":114},
{"p":"d","s":"2.29 N/min","x":1.106,"y":0},{"p":"d","s":"2.29 N/min","x":1.11,"y":1},{"p":"d","s":"2.29 N/min","x":1.12,"y":1},{"p":"d","s":"2.29 N/min","x":1.13,"y":2},{"p":"d","s":"2.29 N/min","x":1.14,"y":2},{"p":"d","s":"2.29 N/min","x":1.15,"y":3},{"p":"d","s":"2.29 N/min","x":1.16,"y":4},{"p":"d","s":"2.29 N/min","x":1.168,"y":5},{"p":"d","s":"2.29 N/min","x":1.18,"y":5},{"p":"d","s":"2.29 N/min","x":1.19,"y":6},{"p":"d","s":"2.29 N/min","x":1.2,"y":7},{"p":"d","s":"2.29 N/min","x":1.21,"y":7},{"p":"d","s":"2.29 N/min","x":1.22,"y":8},{"p":"d","s":"2.29 N/min","x":1.229,"y":8},{"p":"d","s":"2.29 N/min","x":1.24,"y":10},{"p":"d","s":"2.29 N/min","x":1.25,"y":11},{"p":"d","s":"2.29 N/min","x":1.26,"y":13},{"p":"d","s":"2.29 N/min","x":1.274,"y":15},{"p":"d","s":"2.29 N/min","x":1.285,"y":18},{"p":"d","s":"2.29 N/min","x":1.3,"y":21},{"p":"d","s":"2.29 N/min","x":1.31,"y":26},{"p":"d","s":"2.29 N/min","x":1.318,"y":31},{"p":"d","s":"2.29 N/min","x":1.325,"y":36},{"p":"d","s":"2.29 N/min","x":1.331,"y":41},{"p":"d","s":"2.29 N/min","x":1.336,"y":46},{"p":"d","s":"2.29 N/min","x":1.34,"y":50},{"p":"d","s":"2.29 N/min","x":1.345,"y":54},{"p":"d","s":"2.29 N/min","x":1.349,"y":58},
{"p":"d","s":"2.29 N/min","x":1.732,"y":0.5},{"p":"d","s":"2.29 N/min","x":1.75,"y":0.5},{"p":"d","s":"2.29 N/min","x":1.76,"y":2},{"p":"d","s":"2.29 N/min","x":1.77,"y":4},{"p":"d","s":"2.29 N/min","x":1.78,"y":6},{"p":"d","s":"2.29 N/min","x":1.794,"y":8},{"p":"d","s":"2.29 N/min","x":1.807,"y":16},{"p":"d","s":"2.29 N/min","x":1.825,"y":24},{"p":"d","s":"2.29 N/min","x":1.82,"y":12},{"p":"d","s":"2.29 N/min","x":1.83,"y":13},{"p":"d","s":"2.29 N/min","x":1.847,"y":0.5},{"p":"d","s":"2.29 N/min","x":1.84,"y":11},{"p":"d","s":"2.29 N/min","x":1.856,"y":10.5},{"p":"d","s":"2.29 N/min","x":1.865,"y":13},{"p":"d","s":"2.29 N/min","x":1.874,"y":15},{"p":"d","s":"2.29 N/min","x":1.887,"y":19},{"p":"d","s":"2.29 N/min","x":1.895,"y":23},{"p":"d","s":"2.29 N/min","x":1.9,"y":26},{"p":"d","s":"2.29 N/min","x":1.909,"y":30},{"p":"d","s":"2.29 N/min","x":1.915,"y":35},{"p":"d","s":"2.29 N/min","x":1.922,"y":41},{"p":"d","s":"2.29 N/min","x":1.927,"y":46},{"p":"d","s":"2.29 N/min","x":1.931,"y":51},{"p":"d","s":"2.29 N/min","x":1.936,"y":57},{"p":"d","s":"2.29 N/min","x":1.94,"y":63},{"p":"d","s":"2.29 N/min","x":1.942,"y":70},{"p":"d","s":"2.29 N/min","x":1.944,"y":76},{"p":"d","s":"2.29 N/min","x":1.947,"y":82},{"p":"d","s":"2.29 N/min","x":1.949,"y":88},{"p":"d","s":"2.29 N/min","x":1.95,"y":95},{"p":"d","s":"2.29 N/min","x":1.951,"y":103},{"p":"d","s":"2.29 N/min","x":1.952,"y":108},{"p":"d","s":"2.29 N/min","x":1.953,"y":114},
{"p":"d","s":"7.92 N/min","x":1.176,"y":0.5},{"p":"d","s":"7.92 N/min","x":1.19,"y":-1},{"p":"d","s":"7.92 N/min","x":1.2,"y":2},{"p":"d","s":"7.92 N/min","x":1.207,"y":0},{"p":"d","s":"7.92 N/min","x":1.215,"y":3},{"p":"d","s":"7.92 N/min","x":1.225,"y":4},{"p":"d","s":"7.92 N/min","x":1.238,"y":5.5},{"p":"d","s":"7.92 N/min","x":1.25,"y":7},{"p":"d","s":"7.92 N/min","x":1.26,"y":8},{"p":"d","s":"7.92 N/min","x":1.274,"y":10.5},{"p":"d","s":"7.92 N/min","x":1.285,"y":13},{"p":"d","s":"7.92 N/min","x":1.3,"y":16},{"p":"d","s":"7.92 N/min","x":1.31,"y":20},{"p":"d","s":"7.92 N/min","x":1.318,"y":25},{"p":"d","s":"7.92 N/min","x":1.325,"y":29},{"p":"d","s":"7.92 N/min","x":1.331,"y":33},{"p":"d","s":"7.92 N/min","x":1.336,"y":38},{"p":"d","s":"7.92 N/min","x":1.34,"y":44},{"p":"d","s":"7.92 N/min","x":1.347,"y":49},{"p":"d","s":"7.92 N/min","x":1.353,"y":53},
{"p":"d","s":"7.92 N/min","x":1.781,"y":3},{"p":"d","s":"7.92 N/min","x":1.79,"y":5},{"p":"d","s":"7.92 N/min","x":1.803,"y":8},{"p":"d","s":"7.92 N/min","x":1.81,"y":9},{"p":"d","s":"7.92 N/min","x":1.82,"y":11},{"p":"d","s":"7.92 N/min","x":1.829,"y":13},{"p":"d","s":"7.92 N/min","x":1.84,"y":15},{"p":"d","s":"7.92 N/min","x":1.85,"y":17},{"p":"d","s":"7.92 N/min","x":1.856,"y":18},{"p":"d","s":"7.92 N/min","x":1.865,"y":20},{"p":"d","s":"7.92 N/min","x":1.875,"y":22},{"p":"d","s":"7.92 N/min","x":1.882,"y":25},{"p":"d","s":"7.92 N/min","x":1.89,"y":29},{"p":"d","s":"7.92 N/min","x":1.9,"y":35},{"p":"d","s":"7.92 N/min","x":1.906,"y":40},{"p":"d","s":"7.92 N/min","x":1.913,"y":46},{"p":"d","s":"7.92 N/min","x":1.918,"y":50},{"p":"d","s":"7.92 N/min","x":1.922,"y":55},{"p":"d","s":"7.92 N/min","x":1.928,"y":65},{"p":"d","s":"7.92 N/min","x":1.935,"y":78},{"p":"d","s":"7.92 N/min","x":1.942,"y":94},{"p":"d","s":"7.92 N/min","x":1.949,"y":114},

{"p":"e","s":"4.42 N/min","x":1.051,"y":0},{"p":"e","s":"4.42 N/min","x":1.06,"y":0},{"p":"e","s":"4.42 N/min","x":1.07,"y":1},{"p":"e","s":"4.42 N/min","x":1.08,"y":1},{"p":"e","s":"4.42 N/min","x":1.09,"y":2},{"p":"e","s":"4.42 N/min","x":1.097,"y":2.5},{"p":"e","s":"4.42 N/min","x":1.11,"y":3},{"p":"e","s":"4.42 N/min","x":1.12,"y":4},{"p":"e","s":"4.42 N/min","x":1.13,"y":5},{"p":"e","s":"4.42 N/min","x":1.144,"y":7},{"p":"e","s":"4.42 N/min","x":1.16,"y":9},{"p":"e","s":"4.42 N/min","x":1.175,"y":11},{"p":"e","s":"4.42 N/min","x":1.19,"y":12.5},{"p":"e","s":"4.42 N/min","x":1.2,"y":14},{"p":"e","s":"4.42 N/min","x":1.21,"y":16},{"p":"e","s":"4.42 N/min","x":1.218,"y":19},{"p":"e","s":"4.42 N/min","x":1.226,"y":22},{"p":"e","s":"4.42 N/min","x":1.236,"y":26},{"p":"e","s":"4.42 N/min","x":1.243,"y":29},{"p":"e","s":"4.42 N/min","x":1.25,"y":32.5},{"p":"e","s":"4.42 N/min","x":1.255,"y":36},{"p":"e","s":"4.42 N/min","x":1.26,"y":39},{"p":"e","s":"4.42 N/min","x":1.265,"y":42},{"p":"e","s":"4.42 N/min","x":1.269,"y":44},{"p":"e","s":"4.42 N/min","x":1.273,"y":47},{"p":"e","s":"4.42 N/min","x":1.278,"y":49},{"p":"e","s":"4.42 N/min","x":1.282,"y":53},{"p":"e","s":"4.42 N/min","x":1.285,"y":56},
{"p":"e","s":"4.42 N/min","x":1.783,"y":3.3},{"p":"e","s":"4.42 N/min","x":1.792,"y":1.7},{"p":"e","s":"4.42 N/min","x":1.8,"y":4},{"p":"e","s":"4.42 N/min","x":1.81,"y":2},{"p":"e","s":"4.42 N/min","x":1.82,"y":10},{"p":"e","s":"4.42 N/min","x":1.829,"y":1},{"p":"e","s":"4.42 N/min","x":1.84,"y":5},{"p":"e","s":"4.42 N/min","x":1.85,"y":3},{"p":"e","s":"4.42 N/min","x":1.86,"y":6},{"p":"e","s":"4.42 N/min","x":1.876,"y":11},{"p":"e","s":"4.42 N/min","x":1.89,"y":6},{"p":"e","s":"4.42 N/min","x":1.9,"y":8},{"p":"e","s":"4.42 N/min","x":1.913,"y":7.5},{"p":"e","s":"4.42 N/min","x":1.925,"y":3},{"p":"e","s":"4.42 N/min","x":1.93,"y":10},{"p":"e","s":"4.42 N/min","x":1.941,"y":12.5},{"p":"e","s":"4.42 N/min","x":1.95,"y":14},{"p":"e","s":"4.42 N/min","x":1.96,"y":16},{"p":"e","s":"4.42 N/min","x":1.97,"y":18},{"p":"e","s":"4.42 N/min","x":1.978,"y":19},{"p":"e","s":"4.42 N/min","x":1.99,"y":22},{"p":"e","s":"4.42 N/min","x":2.001,"y":24},{"p":"e","s":"4.42 N/min","x":2.01,"y":28},{"p":"e","s":"4.42 N/min","x":2.019,"y":31},{"p":"e","s":"4.42 N/min","x":2.026,"y":33},{"p":"e","s":"4.42 N/min","x":2.033,"y":36},{"p":"e","s":"4.42 N/min","x":2.04,"y":40},{"p":"e","s":"4.42 N/min","x":2.047,"y":42.5},{"p":"e","s":"4.42 N/min","x":2.052,"y":46},{"p":"e","s":"4.42 N/min","x":2.057,"y":50},{"p":"e","s":"4.42 N/min","x":2.06,"y":54},{"p":"e","s":"4.42 N/min","x":2.064,"y":59},{"p":"e","s":"4.42 N/min","x":2.067,"y":63},{"p":"e","s":"4.42 N/min","x":2.07,"y":67.5},{"p":"e","s":"4.42 N/min","x":2.075,"y":72},{"p":"e","s":"4.42 N/min","x":2.08,"y":78},{"p":"e","s":"4.42 N/min","x":2.084,"y":83},{"p":"e","s":"4.42 N/min","x":2.087,"y":87.5},{"p":"e","s":"4.42 N/min","x":2.091,"y":94},{"p":"e","s":"4.42 N/min","x":2.095,"y":103},{"p":"e","s":"4.42 N/min","x":2.098,"y":114},
{"p":"e","s":"2.29 N/min","x":1,"y":2},{"p":"e","s":"2.29 N/min","x":1.005,"y":1},{"p":"e","s":"2.29 N/min","x":1.01,"y":2},{"p":"e","s":"2.29 N/min","x":1.02,"y":3},{"p":"e","s":"2.29 N/min","x":1.03,"y":3},{"p":"e","s":"2.29 N/min","x":1.04,"y":4},{"p":"e","s":"2.29 N/min","x":1.05,"y":4},{"p":"e","s":"2.29 N/min","x":1.06,"y":5},{"p":"e","s":"2.29 N/min","x":1.07,"y":5},{"p":"e","s":"2.29 N/min","x":1.08,"y":6},{"p":"e","s":"2.29 N/min","x":1.09,"y":7},{"p":"e","s":"2.29 N/min","x":1.097,"y":7.5},{"p":"e","s":"2.29 N/min","x":1.105,"y":8},{"p":"e","s":"2.29 N/min","x":1.115,"y":9},{"p":"e","s":"2.29 N/min","x":1.125,"y":10},{"p":"e","s":"2.29 N/min","x":1.135,"y":12},{"p":"e","s":"2.29 N/min","x":1.144,"y":13},{"p":"e","s":"2.29 N/min","x":1.155,"y":15},{"p":"e","s":"2.29 N/min","x":1.165,"y":17},{"p":"e","s":"2.29 N/min","x":1.171,"y":19},{"p":"e","s":"2.29 N/min","x":1.18,"y":22},{"p":"e","s":"2.29 N/min","x":1.19,"y":26},{"p":"e","s":"2.29 N/min","x":1.2,"y":31},{"p":"e","s":"2.29 N/min","x":1.208,"y":36},{"p":"e","s":"2.29 N/min","x":1.215,"y":40},{"p":"e","s":"2.29 N/min","x":1.222,"y":44},{"p":"e","s":"2.29 N/min","x":1.228,"y":48},{"p":"e","s":"2.29 N/min","x":1.232,"y":52.5},{"p":"e","s":"2.29 N/min","x":1.236,"y":57},
{"p":"e","s":"2.29 N/min","x":1.848,"y":6},{"p":"e","s":"2.29 N/min","x":1.86,"y":5},{"p":"e","s":"2.29 N/min","x":1.87,"y":8},{"p":"e","s":"2.29 N/min","x":1.885,"y":7.5},{"p":"e","s":"2.29 N/min","x":1.9,"y":9},{"p":"e","s":"2.29 N/min","x":1.91,"y":8},{"p":"e","s":"2.29 N/min","x":1.92,"y":10},{"p":"e","s":"2.29 N/min","x":1.931,"y":9},{"p":"e","s":"2.29 N/min","x":1.94,"y":12},{"p":"e","s":"2.29 N/min","x":1.95,"y":14},{"p":"e","s":"2.29 N/min","x":1.96,"y":16},{"p":"e","s":"2.29 N/min","x":1.969,"y":21},{"p":"e","s":"2.29 N/min","x":1.98,"y":14},{"p":"e","s":"2.29 N/min","x":1.99,"y":15},{"p":"e","s":"2.29 N/min","x":2.006,"y":6},{"p":"e","s":"2.29 N/min","x":2.01,"y":14},{"p":"e","s":"2.29 N/min","x":2.02,"y":15},{"p":"e","s":"2.29 N/min","x":2.03,"y":16},{"p":"e","s":"2.29 N/min","x":2.04,"y":17},{"p":"e","s":"2.29 N/min","x":2.052,"y":16},{"p":"e","s":"2.29 N/min","x":2.06,"y":20},{"p":"e","s":"2.29 N/min","x":2.07,"y":22},{"p":"e","s":"2.29 N/min","x":2.08,"y":24},{"p":"e","s":"2.29 N/min","x":2.09,"y":26},{"p":"e","s":"2.29 N/min","x":2.098,"y":28},{"p":"e","s":"2.29 N/min","x":2.103,"y":35},{"p":"e","s":"2.29 N/min","x":2.107,"y":41},{"p":"e","s":"2.29 N/min","x":2.114,"y":48},{"p":"e","s":"2.29 N/min","x":2.121,"y":56},{"p":"e","s":"2.29 N/min","x":2.128,"y":62},{"p":"e","s":"2.29 N/min","x":2.135,"y":67.5},{"p":"e","s":"2.29 N/min","x":2.14,"y":74},{"p":"e","s":"2.29 N/min","x":2.145,"y":81},{"p":"e","s":"2.29 N/min","x":2.15,"y":88},{"p":"e","s":"2.29 N/min","x":2.154,"y":94},{"p":"e","s":"2.29 N/min","x":2.158,"y":104},{"p":"e","s":"2.29 N/min","x":2.163,"y":115},
{"p":"e","s":"7.92 N/min","x":1.049,"y":3.3},{"p":"e","s":"7.92 N/min","x":1.06,"y":2},{"p":"e","s":"7.92 N/min","x":1.074,"y":1},{"p":"e","s":"7.92 N/min","x":1.08,"y":2},{"p":"e","s":"7.92 N/min","x":1.09,"y":3},{"p":"e","s":"7.92 N/min","x":1.1,"y":3},{"p":"e","s":"7.92 N/min","x":1.107,"y":4},{"p":"e","s":"7.92 N/min","x":1.115,"y":5},{"p":"e","s":"7.92 N/min","x":1.125,"y":6},{"p":"e","s":"7.92 N/min","x":1.135,"y":8},{"p":"e","s":"7.92 N/min","x":1.144,"y":9},{"p":"e","s":"7.92 N/min","x":1.155,"y":11},{"p":"e","s":"7.92 N/min","x":1.165,"y":14},{"p":"e","s":"7.92 N/min","x":1.171,"y":16},{"p":"e","s":"7.92 N/min","x":1.18,"y":19},{"p":"e","s":"7.92 N/min","x":1.19,"y":24},{"p":"e","s":"7.92 N/min","x":1.195,"y":29},{"p":"e","s":"7.92 N/min","x":1.199,"y":34},{"p":"e","s":"7.92 N/min","x":1.204,"y":38},{"p":"e","s":"7.92 N/min","x":1.208,"y":42.5},{"p":"e","s":"7.92 N/min","x":1.212,"y":45},{"p":"e","s":"7.92 N/min","x":1.216,"y":48},{"p":"e","s":"7.92 N/min","x":1.222,"y":56},
{"p":"e","s":"7.92 N/min","x":1.936,"y":2.5},{"p":"e","s":"7.92 N/min","x":1.945,"y":6},{"p":"e","s":"7.92 N/min","x":1.955,"y":13},{"p":"e","s":"7.92 N/min","x":1.965,"y":4},{"p":"e","s":"7.92 N/min","x":1.973,"y":1},{"p":"e","s":"7.92 N/min","x":1.98,"y":8},{"p":"e","s":"7.92 N/min","x":1.99,"y":10},{"p":"e","s":"7.92 N/min","x":1.996,"y":14},{"p":"e","s":"7.92 N/min","x":2.005,"y":12},{"p":"e","s":"7.92 N/min","x":2.015,"y":14},{"p":"e","s":"7.92 N/min","x":2.024,"y":16},{"p":"e","s":"7.92 N/min","x":2.035,"y":17},{"p":"e","s":"7.92 N/min","x":2.045,"y":18},{"p":"e","s":"7.92 N/min","x":2.052,"y":19},{"p":"e","s":"7.92 N/min","x":2.06,"y":21},{"p":"e","s":"7.92 N/min","x":2.07,"y":22},{"p":"e","s":"7.92 N/min","x":2.08,"y":24},{"p":"e","s":"7.92 N/min","x":2.089,"y":34},{"p":"e","s":"7.92 N/min","x":2.098,"y":40},{"p":"e","s":"7.92 N/min","x":2.107,"y":47.5},{"p":"e","s":"7.92 N/min","x":2.115,"y":53},{"p":"e","s":"7.92 N/min","x":2.121,"y":57.5},{"p":"e","s":"7.92 N/min","x":2.128,"y":62},{"p":"e","s":"7.92 N/min","x":2.135,"y":67},{"p":"e","s":"7.92 N/min","x":2.14,"y":73},{"p":"e","s":"7.92 N/min","x":2.145,"y":81},{"p":"e","s":"7.92 N/min","x":2.152,"y":97},{"p":"e","s":"7.92 N/min","x":2.158,"y":112}
]},
"spacing": 8,
"resolve": {"scale": {"color": "independent", "shape": "independent"}, "legend": {"color": "independent", "shape": "independent"}},
"vconcat": [
{"hconcat": [
 {"width": 222, "height": 300, "data": {"values": [{}]}, "mark": {"type": "point", "opacity": 0}, "encoding": {}},
 {"width": 538, "height": 300, "layer": [
  {"data": {"name": "pts"}, "transform": [{"filter": "datum.p == 'a'"}],
   "mark": {"type": "point", "filled": false, "strokeWidth": 2, "size": 110, "opacity": 1},
   "encoding": {
    "x": {"field": "x", "type": "quantitative", "scale": {"domain": [1, 2.2], "nice": false, "zero": false}, "axis": {"title": "λ", "values": [1,1.1,1.2,1.3,1.4,1.5,1.6,1.7,1.8,1.9,2,2.1,2.2], "format": ".1~f"}},
    "y": {"field": "y", "type": "quantitative", "scale": {"domain": [0, 300], "nice": false, "zero": false}, "axis": {"title": "First-PK Stress (kPa)", "values": [0,50,100,150,200,250,300]}},
    "color": {"field": "s", "type": "nominal", "scale": {"domain": ["2.29 N/min","4.42 N/min","7.92 N/min"], "range": ["#000000","#0000ff","#ff0000"]}, "legend": {"title": null, "orient": "top-right", "offset": 4, "labelFontSize": 25, "labelFont": "Liberation Sans", "labelColor": "#000000", "symbolSize": 400, "symbolStrokeWidth": 3, "rowPadding": 15, "labelOffset": 12, "padding": 0}},
    "shape": {"field": "s", "type": "nominal", "scale": {"domain": ["2.29 N/min","4.42 N/min","7.92 N/min"], "range": ["square","circle","M0,-1.25L0.85,0L0,1.25L-0.85,0Z"]}, "legend": {"title": null, "orient": "top-right", "offset": 4, "labelFontSize": 25, "labelFont": "Liberation Sans", "labelColor": "#000000", "symbolSize": 400, "symbolStrokeWidth": 3, "rowPadding": 15, "labelOffset": 12, "padding": 0}}
   }},
  {"data": {"values": [{}]}, "mark": {"type": "rule", "opacity": 0, "strokeWidth": 1}, "encoding": {"x": {"datum": 0.371}, "x2": {"datum": 0.372}, "y": {"datum": 369}, "y2": {"datum": -61}}},
  {"data": {"values": [{}]}, "mark": {"type": "text", "fontSize": 26, "font": "Liberation Sans", "color": "#000000", "baseline": "middle", "align": "center"}, "encoding": {"x": {"datum": 1.148}, "y": {"datum": 149}, "text": {"value": "C"}}},
  {"data": {"values": [{}]}, "mark": {"type": "text", "fontSize": 26, "font": "Liberation Sans", "color": "#000000", "baseline": "middle", "align": "center"}, "encoding": {"x": {"datum": 1.693}, "y": {"datum": 269}, "text": {"value": "R"}}},
  {"data": {"values": [{}]}, "mark": {"type": "text", "fontSize": 33, "font": "Liberation Sans", "color": "#000000", "baseline": "alphabetic", "align": "center"}, "encoding": {"x": {"datum": 0.842}, "y": {"datum": 337}, "text": {"value": "(a)"}}},
  {"data": {"values": [{}]}, "mark": {"type": "text", "fontSize": 34, "font": "Liberation Sans", "color": "#000000", "baseline": "alphabetic", "align": "center"}, "encoding": {"x": {"datum": 1.573}, "y": {"datum": 337}, "text": {"value": "MVAL"}}},
  {"data": {"values": [{}]}, "mark": {"type": "rule", "color": "#000000", "strokeWidth": 3}, "encoding": {"x": {"datum": 1.466}, "x2": {"datum": 1.681}, "y": {"datum": 332}}}
 ]},
 {"width": 203, "height": 300, "data": {"values": [{}]}, "mark": {"type": "point", "opacity": 0}, "encoding": {}},
 {"width": 538, "height": 300, "layer": [
  {"data": {"name": "pts"}, "transform": [{"filter": "datum.p == 'b'"}],
   "mark": {"type": "point", "filled": false, "strokeWidth": 2, "size": 110, "opacity": 1},
   "encoding": {
    "x": {"field": "x", "type": "quantitative", "scale": {"domain": [1, 2.2], "nice": false, "zero": false}, "axis": {"title": "λ", "values": [1,1.1,1.2,1.3,1.4,1.5,1.6,1.7,1.8,1.9,2,2.1,2.2], "format": ".1~f"}},
    "y": {"field": "y", "type": "quantitative", "scale": {"domain": [0, 300], "nice": false, "zero": false}, "axis": {"title": "First-PK Stress (kPa)", "values": [0,50,100,150,200,250,300]}},
    "color": {"field": "s", "type": "nominal", "scale": {"domain": ["2.29 N/min","4.42 N/min","7.92 N/min"], "range": ["#000000","#0000ff","#ff0000"]}, "legend": null},
    "shape": {"field": "s", "type": "nominal", "scale": {"domain": ["2.29 N/min","4.42 N/min","7.92 N/min"], "range": ["square","circle","M0,-1.25L0.85,0L0,1.25L-0.85,0Z"]}, "legend": null}
   }},
  {"data": {"values": [{}]}, "mark": {"type": "text", "fontSize": 26, "font": "Liberation Sans", "color": "#000000", "baseline": "middle", "align": "center"}, "encoding": {"x": {"datum": 1.097}, "y": {"datum": 144}, "text": {"value": "C"}}},
  {"data": {"values": [{}]}, "mark": {"type": "text", "fontSize": 26, "font": "Liberation Sans", "color": "#000000", "baseline": "middle", "align": "center"}, "encoding": {"x": {"datum": 1.861}, "y": {"datum": 269}, "text": {"value": "R"}}},
  {"data": {"values": [{}]}, "mark": {"type": "text", "fontSize": 33, "font": "Liberation Sans", "color": "#000000", "baseline": "alphabetic", "align": "center"}, "encoding": {"x": {"datum": 0.837}, "y": {"datum": 337}, "text": {"value": "(b)"}}},
  {"data": {"values": [{}]}, "mark": {"type": "text", "fontSize": 34, "font": "Liberation Sans", "color": "#000000", "baseline": "alphabetic", "align": "center"}, "encoding": {"x": {"datum": 1.568}, "y": {"datum": 337}, "text": {"value": "MVPL"}}},
  {"data": {"values": [{}]}, "mark": {"type": "rule", "color": "#000000", "strokeWidth": 3}, "encoding": {"x": {"datum": 1.458}, "x2": {"datum": 1.677}, "y": {"datum": 332}}}
 ]}
], "spacing": 0, "bounds": "flush",
 "resolve": {"scale": {"color": "independent", "shape": "independent"}, "legend": {"color": "independent", "shape": "independent"}}},
{"hconcat": [
 {"width": 538, "height": 300, "layer": [
  {"data": {"name": "pts"}, "transform": [{"filter": "datum.p == 'c'"}],
   "mark": {"type": "point", "filled": false, "strokeWidth": 2, "size": 150, "opacity": 1},
   "encoding": {
    "x": {"field": "x", "type": "quantitative", "scale": {"domain": [1, 2.2], "nice": false, "zero": false}, "axis": {"title": "λ", "values": [1,1.1,1.2,1.3,1.4,1.5,1.6,1.7,1.8,1.9,2,2.1,2.2], "format": ".1~f"}},
    "y": {"field": "y", "type": "quantitative", "scale": {"domain": [0, 150], "nice": false, "zero": false}, "axis": {"title": "First-PK Stress (kPa)", "values": [0,50,100,150]}},
    "color": {"field": "s", "type": "nominal", "scale": {"domain": ["2.29 N/min","4.42 N/min","7.92 N/min"], "range": ["#000000","#0000ff","#ff0000"]}, "legend": null},
    "shape": {"field": "s", "type": "nominal", "scale": {"domain": ["2.29 N/min","4.42 N/min","7.92 N/min"], "range": ["square","circle","M0,-1.25L0.85,0L0,1.25L-0.85,0Z"]}, "legend": null}
   }},
  {"data": {"values": [{}]}, "mark": {"type": "rule", "opacity": 0, "strokeWidth": 1}, "encoding": {"x": {"datum": 0.8662}, "x2": {"datum": 0.867}, "y": {"datum": 207.5}, "y2": {"datum": 150}}},
  {"data": {"values": [{}]}, "mark": {"type": "text", "fontSize": 26, "font": "Liberation Sans", "color": "#000000", "baseline": "middle", "align": "center"}, "encoding": {"x": {"datum": 1.116}, "y": {"datum": 69}, "text": {"value": "C"}}},
  {"data": {"values": [{}]}, "mark": {"type": "text", "fontSize": 26, "font": "Liberation Sans", "color": "#000000", "baseline": "middle", "align": "center"}, "encoding": {"x": {"datum": 1.994}, "y": {"datum": 127.5}, "text": {"value": "R"}}},
  {"data": {"values": [{}]}, "mark": {"type": "text", "fontSize": 33, "font": "Liberation Sans", "color": "#000000", "baseline": "alphabetic", "align": "center"}, "encoding": {"x": {"datum": 0.913}, "y": {"datum": 177.5}, "text": {"value": "(c)"}}},
  {"data": {"values": [{}]}, "mark": {"type": "text", "fontSize": 35, "font": "Liberation Sans", "color": "#000000", "baseline": "alphabetic", "align": "center"}, "encoding": {"x": {"datum": 1.601}, "y": {"datum": 177.5}, "text": {"value": "TVAL"}}},
  {"data": {"values": [{}]}, "mark": {"type": "rule", "color": "#000000", "strokeWidth": 3}, "encoding": {"x": {"datum": 1.502}, "x2": {"datum": 1.7}, "y": {"datum": 175}}}
 ]},
 {"width": 55, "height": 300, "data": {"values": [{}]}, "mark": {"type": "point", "opacity": 0}, "encoding": {}},
 {"width": 538, "height": 300, "layer": [
  {"data": {"name": "pts"}, "transform": [{"filter": "datum.p == 'd'"}],
   "mark": {"type": "point", "filled": false, "strokeWidth": 2, "size": 150, "opacity": 1},
   "encoding": {
    "x": {"field": "x", "type": "quantitative", "scale": {"domain": [1, 2.2], "nice": false, "zero": false}, "axis": {"title": "λ", "values": [1,1.1,1.2,1.3,1.4,1.5,1.6,1.7,1.8,1.9,2,2.1,2.2], "format": ".1~f"}},
    "y": {"field": "y", "type": "quantitative", "scale": {"domain": [0, 150], "nice": false, "zero": false}, "axis": {"title": "First-PK Stress (kPa)", "values": [0,50,100,150]}},
    "color": {"field": "s", "type": "nominal", "scale": {"domain": ["2.29 N/min","4.42 N/min","7.92 N/min"], "range": ["#000000","#0000ff","#ff0000"]}, "legend": null},
    "shape": {"field": "s", "type": "nominal", "scale": {"domain": ["2.29 N/min","4.42 N/min","7.92 N/min"], "range": ["square","circle","M0,-1.25L0.85,0L0,1.25L-0.85,0Z"]}, "legend": null}
   }},
  {"data": {"values": [{}]}, "mark": {"type": "text", "fontSize": 26, "font": "Liberation Sans", "color": "#000000", "baseline": "middle", "align": "center"}, "encoding": {"x": {"datum": 1.36}, "y": {"datum": 69.7}, "text": {"value": "C"}}},
  {"data": {"values": [{}]}, "mark": {"type": "text", "fontSize": 26, "font": "Liberation Sans", "color": "#000000", "baseline": "middle", "align": "center"}, "encoding": {"x": {"datum": 1.915}, "y": {"datum": 128.8}, "text": {"value": "R"}}},
  {"data": {"values": [{}]}, "mark": {"type": "text", "fontSize": 33, "font": "Liberation Sans", "color": "#000000", "baseline": "alphabetic", "align": "center"}, "encoding": {"x": {"datum": 0.897}, "y": {"datum": 177.5}, "text": {"value": "(d)"}}},
  {"data": {"values": [{}]}, "mark": {"type": "text", "fontSize": 35, "font": "Liberation Sans", "color": "#000000", "baseline": "alphabetic", "align": "center"}, "encoding": {"x": {"datum": 1.598}, "y": {"datum": 177.5}, "text": {"value": "TVPL"}}},
  {"data": {"values": [{}]}, "mark": {"type": "rule", "color": "#000000", "strokeWidth": 3}, "encoding": {"x": {"datum": 1.495}, "x2": {"datum": 1.7015}, "y": {"datum": 175}}}
 ]},
 {"width": 61, "height": 300, "data": {"values": [{}]}, "mark": {"type": "point", "opacity": 0}, "encoding": {}},
 {"width": 537, "height": 300, "layer": [
  {"data": {"name": "pts"}, "transform": [{"filter": "datum.p == 'e'"}],
   "mark": {"type": "point", "filled": false, "strokeWidth": 2, "size": 150, "opacity": 1},
   "encoding": {
    "x": {"field": "x", "type": "quantitative", "scale": {"domain": [1, 2.2], "nice": false, "zero": false}, "axis": {"title": "λ", "values": [1,1.1,1.2,1.3,1.4,1.5,1.6,1.7,1.8,1.9,2,2.1,2.2], "format": ".1~f"}},
    "y": {"field": "y", "type": "quantitative", "scale": {"domain": [0, 150], "nice": false, "zero": false}, "axis": {"title": "First-PK Stress (kPa)", "values": [0,50,100,150]}},
    "color": {"field": "s", "type": "nominal", "scale": {"domain": ["2.29 N/min","4.42 N/min","7.92 N/min"], "range": ["#000000","#0000ff","#ff0000"]}, "legend": null},
    "shape": {"field": "s", "type": "nominal", "scale": {"domain": ["2.29 N/min","4.42 N/min","7.92 N/min"], "range": ["square","circle","M0,-1.25L0.85,0L0,1.25L-0.85,0Z"]}, "legend": null}
   }},
  {"data": {"values": [{}]}, "mark": {"type": "text", "fontSize": 26, "font": "Liberation Sans", "color": "#000000", "baseline": "middle", "align": "center"}, "encoding": {"x": {"datum": 1.253}, "y": {"datum": 69}, "text": {"value": "C"}}},
  {"data": {"values": [{}]}, "mark": {"type": "text", "fontSize": 26, "font": "Liberation Sans", "color": "#000000", "baseline": "middle", "align": "center"}, "encoding": {"x": {"datum": 2.126}, "y": {"datum": 130.8}, "text": {"value": "R"}}},
  {"data": {"values": [{}]}, "mark": {"type": "text", "fontSize": 33, "font": "Liberation Sans", "color": "#000000", "baseline": "alphabetic", "align": "center"}, "encoding": {"x": {"datum": 0.839}, "y": {"datum": 177.5}, "text": {"value": "(e)"}}},
  {"data": {"values": [{}]}, "mark": {"type": "text", "fontSize": 35, "font": "Liberation Sans", "color": "#000000", "baseline": "alphabetic", "align": "center"}, "encoding": {"x": {"datum": 1.56}, "y": {"datum": 177.5}, "text": {"value": "TVSL"}}},
  {"data": {"values": [{}]}, "mark": {"type": "rule", "color": "#000000", "strokeWidth": 3}, "encoding": {"x": {"datum": 1.456}, "x2": {"datum": 1.664}, "y": {"datum": 175}}}
 ]}
], "spacing": 0, "bounds": "flush",
 "resolve": {"scale": {"color": "independent", "shape": "independent"}, "legend": {"color": "independent", "shape": "independent"}}}
]
}
